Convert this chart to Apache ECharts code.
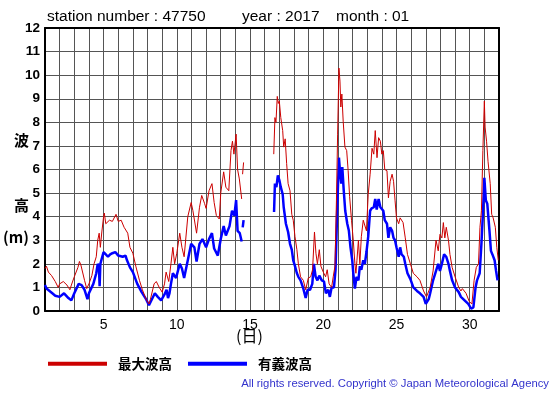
<!DOCTYPE html>
<html>
<head>
<meta charset="utf-8">
<script src="https://cdn.jsdelivr.net/npm/echarts@6/dist/echarts.min.js"></script>
<style>
html,body{margin:0;padding:0;background:#fff;}
#chart{width:555px;height:395px;}
</style>
</head>
<body>
<div id="chart"></div>
<script>
// Day of month (fractional) and maximum wave height (m)
const maxDays = [1.0,1.1,1.23,1.45,1.7,1.9,2.0,2.25,2.5,2.7,2.8,3.0,3.25,3.35,3.45,3.7,3.85,4.0,4.2,4.35,4.5,4.6,4.7,4.78,4.88,5.0,5.05,5.15,5.4,5.6,5.85,6.0,6.2,6.4,6.65,6.8,7.0,7.2,7.45,7.65,7.9,8.1,8.2,8.45,8.6,8.8,9.0,9.16,9.27,9.45,9.6,9.73,9.85,10.0,10.2,10.35,10.5,10.75,10.98,11.1,11.2,11.35,11.55,11.7,11.9,12.0,12.2,12.4,12.55,12.7,12.9,13.0,13.2,13.35,13.55,13.7,13.8,13.9,14.05,14.15,14.27,14.43,14.46,14.49,14.56,14.6,
16.62,16.7,16.77,16.86,16.93,17.0,17.1,17.23,17.3,17.4,17.5,17.6,17.73,17.85,17.95,18.07,18.2,18.3,18.45,18.64,18.8,18.98,19.14,19.27,19.4,19.5,19.6,19.73,19.84,20.0,20.16,20.27,20.4,20.57,20.68,20.8,20.9,20.98,21.07,21.14,21.2,21.27,21.36,21.48,21.6,21.7,21.8,21.93,22.05,22.16,22.23,22.3,22.4,22.5,22.6,22.73,22.84,22.95,23.07,23.2,23.33,23.45,23.55,23.67,23.78,23.9,24.0,24.1,24.2,24.35,24.45,24.57,24.7,24.8,24.9,25.0,25.15,25.25,25.45,25.6,25.75,25.95,26.15,26.4,26.6,26.85,27.05,27.3,27.5,27.7,27.85,27.97,28.1,28.2,28.3,28.4,28.55,28.65,28.8,29.0,29.25,29.4,29.5,29.75,29.97,30.15,30.3,30.45,30.6,30.7,30.8,30.9,31.0,31.05,31.15,31.25,31.4,31.5,31.6,31.75,31.85,31.95];
const maxHeights = [1.8,1.9,1.65,1.5,1.25,1.0,1.15,1.25,1.1,0.9,1.1,1.45,1.85,2.1,1.95,1.3,0.95,1.15,1.5,2.0,2.3,3.0,3.3,2.7,3.35,4.0,4.15,3.7,3.85,3.8,4.1,3.8,3.85,3.55,3.3,2.7,2.45,1.9,1.3,0.9,0.5,0.3,0.5,1.15,1.25,1.0,0.8,1.15,1.65,1.25,2.0,2.7,2.0,2.45,3.3,2.7,2.3,4.0,4.6,4.25,4.25,3.3,4.4,4.9,4.55,4.35,5.1,5.4,4.6,4.05,3.9,5.0,5.9,5.25,5.1,6.8,7.2,6.65,7.5,6.0,5.6,4.75,null,5.8,6.3,null,
6.65,8.2,8.0,9.1,8.8,8.9,8.2,7.65,6.95,7.3,6.25,5.4,5.1,4.1,3.85,3.15,2.6,2.0,1.45,1.3,0.9,1.4,1.45,1.75,3.35,2.45,2.0,2.6,1.9,1.65,1.45,1.75,1.15,1.0,1.45,1.9,4.7,7.5,10.3,9.75,8.65,9.2,8.05,6.95,6.8,5.95,4.85,3.85,3.0,2.0,1.6,2.15,3.0,2.0,3.15,3.85,3.9,3.4,4.95,5.8,6.9,6.65,7.65,6.5,7.35,7.2,6.65,6.8,6.0,5.95,4.8,5.5,5.8,5.5,4.7,3.95,3.7,3.95,3.75,3.1,2.4,2.0,1.6,1.45,1.3,0.85,0.6,1.0,1.7,3.0,2.55,3.25,3.1,3.75,3.1,3.55,3.0,2.4,1.85,1.45,1.0,0.85,0.95,0.75,0.4,0.3,1.3,1.85,2.0,3.55,4.25,6.8,8.9,7.8,7.2,6.35,5.4,4.1,3.95,3.55,2.7,2.15];

// Day of month (fractional) and significant wave height (m)
const sigDays = [1.0,1.1,1.2,1.5,1.7,2.0,2.3,2.6,2.8,3.0,3.3,3.5,3.7,3.9,4.0,4.3,4.5,4.6,4.68,4.73,4.78,4.88,5.0,5.15,5.3,5.45,5.6,5.8,6.0,6.3,6.5,6.6,6.8,7.0,7.3,7.6,7.9,8.1,8.3,8.5,8.7,8.93,9.0,9.16,9.3,9.4,9.5,9.6,9.73,9.95,10.2,10.35,10.5,10.75,10.98,11.2,11.35,11.55,11.75,12.0,12.2,12.4,12.55,12.8,13.0,13.2,13.35,13.6,13.77,13.93,14.05,14.15,14.3,14.43,14.46,14.5,14.56,14.6,
16.64,16.7,16.8,16.9,17.0,17.1,17.23,17.3,17.45,17.6,17.73,17.85,17.95,18.07,18.2,18.3,18.45,18.64,18.8,18.93,19.1,19.25,19.36,19.48,19.6,19.73,19.9,20.05,20.18,20.34,20.45,20.57,20.73,20.84,20.9,20.98,21.07,21.14,21.23,21.3,21.4,21.5,21.64,21.75,21.86,21.98,22.05,22.16,22.27,22.4,22.5,22.6,22.73,22.84,22.95,23.07,23.2,23.3,23.45,23.55,23.65,23.78,23.9,24.1,24.2,24.35,24.45,24.57,24.7,24.8,24.9,25.0,25.15,25.25,25.35,25.5,25.6,25.75,25.95,26.15,26.4,26.6,26.85,27.0,27.2,27.3,27.5,27.7,27.85,27.97,28.1,28.25,28.4,28.55,28.65,28.8,29.0,29.25,29.4,29.65,29.9,30.1,30.25,30.4,30.5,30.68,30.8,30.9,31.0,31.1,31.2,31.35,31.45,31.55,31.7,31.8,31.9];
const sigHeights = [1.1,0.95,0.9,0.75,0.65,0.6,0.75,0.55,0.45,0.75,1.15,1.1,0.9,0.5,0.75,1.15,1.6,2.0,1.9,1.05,2.0,1.95,2.5,2.4,2.3,2.4,2.45,2.5,2.35,2.3,2.35,2.15,1.85,1.65,1.15,0.8,0.5,0.25,0.5,0.75,0.6,0.45,0.5,0.7,0.9,0.55,0.75,1.15,1.6,1.4,2.0,1.8,1.4,2.15,2.85,2.7,2.1,2.85,3.05,2.7,3.05,3.3,2.65,2.35,3.05,3.6,3.2,3.6,4.25,4.05,4.7,3.4,3.3,2.95,null,3.55,3.85,null,
4.2,5.4,5.25,5.75,5.55,5.25,4.95,4.4,3.7,3.35,2.85,2.6,2.15,1.9,1.6,1.45,1.3,0.95,0.55,0.9,0.9,1.15,2.0,1.45,1.3,1.5,1.3,1.25,0.75,0.9,0.6,1.0,1.0,1.75,3.15,4.85,6.5,5.95,5.4,6.1,5.1,4.25,3.7,3.4,2.7,2.15,1.6,0.95,1.45,1.3,1.9,1.75,2.15,2.0,2.5,3.15,4.25,4.35,4.4,4.75,4.3,4.75,4.4,4.25,3.85,3.7,3.1,3.55,3.4,3.1,3.0,2.7,2.3,2.7,2.4,2.3,2.0,1.6,1.35,1.0,0.85,0.75,0.6,0.3,0.5,0.75,1.3,1.7,2.0,1.7,2.0,2.4,2.3,2.0,1.7,1.3,1.0,0.8,0.6,0.45,0.3,0.1,0.15,1.0,1.3,1.6,2.85,4.1,5.65,4.7,4.55,3.4,2.55,2.4,2.15,1.7,1.3];

const xTickLabels = [5, 10, 15, 20, 25, 30];
const seriesNames = ['最大波高', '有義波高'];

const toPairs = (xs, ys) => xs.map((x, i) => [x, ys[i]]);

const chart = echarts.init(document.getElementById('chart'), null, {renderer: 'canvas'});
const latin = '"Liberation Sans", Arial, sans-serif';
const cjk = '"Noto Sans CJK JP", sans-serif';

chart.setOption({
  animation: false,
  backgroundColor: '#fff',
  grid: {left: 45, right: 56, top: 28, bottom: 84, containLabel: false},
  legend: {
    left: 43, top: 352,
    itemWidth: 59, itemHeight: 4, itemGap: 16,
    icon: 'rect',
    data: [
      {name: seriesNames[0], itemStyle: {color: '#cc0000'}},
      {name: seriesNames[1], itemStyle: {color: '#0000ff'}}
    ],
    textStyle: {fontFamily: cjk, fontWeight: 'bold', fontSize: 13.5, color: '#000', padding: [0, 0, 0, 6]}
  },
  xAxis: [{
    type: 'value', min: 1, max: 32, interval: 1,
    axisLine: {show: true, lineStyle: {color: '#000', width: 2}},
    axisTick: {show: false},
    splitLine: {show: true, lineStyle: {color: '#555', width: 1}},
    axisLabel: {
      margin: 7, fontFamily: latin, fontSize: 14, color: '#000',
      formatter: v => xTickLabels.indexOf(v) >= 0 ? String(v) : ''
    }
  }, {
    type: 'value', min: 1, max: 32, position: 'top',
    axisLine: {show: true, onZero: false, lineStyle: {color: '#000', width: 2}},
    axisTick: {show: false}, axisLabel: {show: false}, splitLine: {show: false}
  }],
  yAxis: [{
    type: 'value', min: 0, max: 12, interval: 1,
    axisLine: {show: true, lineStyle: {color: '#000', width: 2}},
    axisTick: {show: false},
    splitLine: {show: true, lineStyle: {color: '#555', width: 1}},
    axisLabel: {margin: 5, fontFamily: latin, fontWeight: 'bold', fontSize: 13.5, color: '#000'}
  }, {
    type: 'value', min: 0, max: 12, position: 'right',
    axisLine: {show: true, onZero: false, lineStyle: {color: '#000', width: 2}},
    axisTick: {show: false}, axisLabel: {show: false}, splitLine: {show: false}
  }],
  graphic: [
    {type: 'text', left: 47, top: 9, style: {text: 'station number : 47750', font: '15.5px ' + latin, fill: '#000'}},
    {type: 'text', left: 242, top: 9, style: {text: 'year : 2017', font: '15.5px ' + latin, fill: '#000'}},
    {type: 'text', left: 336, top: 9, style: {text: 'month : 01', font: '15.5px ' + latin, fill: '#000'}},
    {type: 'text', left: 14, top: 133, style: {text: '波', font: 'bold 15px ' + cjk, fill: '#000'}},
    {type: 'text', left: 14, top: 198, style: {text: '高', font: 'bold 15px ' + cjk, fill: '#000'}},
    {type: 'text', left: 3, top: 230, style: {text: '(m)', font: 'bold 15px ' + cjk, fill: '#000'}},
    {type: 'text', left: 236, top: 328, style: {text: '(日)', font: '16px ' + cjk, fill: '#000'}},
    {type: 'text', right: 6, top: 378, style: {text: 'All rights reserved. Copyright © Japan Meteorological Agency', font: '11.3px ' + latin, fill: '#3333cc'}}
  ],
  series: [
    {
      name: seriesNames[1], type: 'line', showSymbol: false, connectNulls: false,
      data: toPairs(sigDays, sigHeights),
      lineStyle: {color: '#0000ff', width: 2.5}, itemStyle: {color: '#0000ff'}
    },
    {
      name: seriesNames[0], type: 'line', showSymbol: false, connectNulls: false,
      data: toPairs(maxDays, maxHeights),
      lineStyle: {color: '#cc0000', width: 1}, itemStyle: {color: '#cc0000'}
    }
  ]
});
</script>
</body>
</html>
